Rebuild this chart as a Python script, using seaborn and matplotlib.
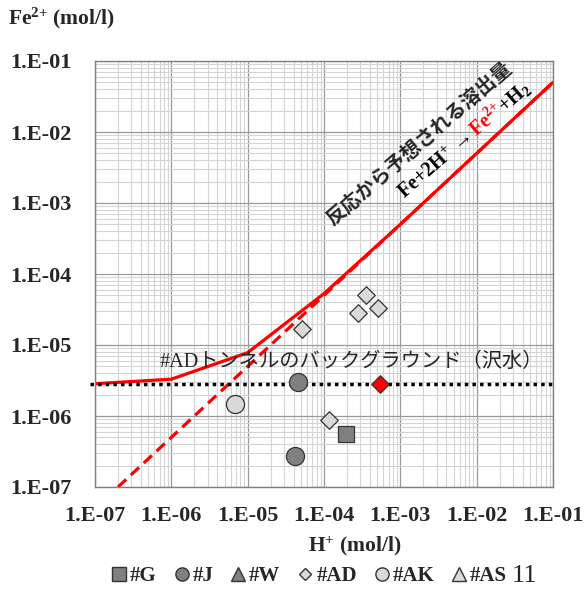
import numpy as np
import matplotlib
matplotlib.use('Agg')
import matplotlib.pyplot as plt
import matplotlib.transforms as mtransforms
from matplotlib.lines import Line2D
from matplotlib.ticker import LogLocator, FixedLocator, FuncFormatter, NullFormatter
import seaborn as sns

# expected dissolution (Fe + 2H+ -> Fe2+ + H2) plus background, read at each decade
line_h = [1e-7, 1e-6, 1e-5, 1e-4, 1e-3, 1e-2, 1e-1]
line_fe = [2.85e-6, 3.3e-6, 7.8e-6, 5.3e-5, 5.0e-4, 5.0e-3, 5.0e-2]
# same reaction without background (dashed)
dash_h = [2e-7, 1e-6, 1e-5, 1e-4, 1e-3, 1e-2, 1e-1]
dash_fe = [1e-7, 5e-7, 5e-6, 5e-5, 5e-4, 5e-3, 5e-2]
# background level of the #AD tunnel (stream water)
background_fe = 2.8e-6

# measured points
g_h, g_fe = [1.95e-4], [5.6e-7]
j_h, j_fe = [4.6e-5, 4.2e-5], [3.0e-6, 2.7e-7]
ad_h = [5.2e-5, 3.6e-4, 2.8e-4, 5.1e-4, 1.15e-4]
ad_fe = [1.66e-5, 5.0e-5, 2.8e-5, 3.3e-5, 8.8e-7]
ak_h, ak_fe = [6.8e-6], [1.46e-6]
ad_bg_h, ad_bg_fe = [5.4e-4], [2.85e-6]

decades = [1e-7, 1e-6, 1e-5, 1e-4, 1e-3, 1e-2, 1e-1]
legend_labels = ['#G', '#J', '#W', '#AD', '#AK', '#AS']

sns.set_style('white')
plt.rcParams['font.family'] = ['Liberation Serif', 'Noto Sans CJK JP']
plt.rcParams['mathtext.default'] = 'regular'

fig = plt.figure(figsize=(5.86, 5.91), dpi=100)
ax = fig.add_axes([95 / 586, 1 - 487 / 591, 458 / 586, 426 / 591])
ax.set_xscale('log')
ax.set_yscale('log')
ax.set_xlim(1e-7, 1e-1)
ax.set_ylim(1e-7, 1e-1)

# every decade labelled, minor lines as grid only
for axis in (ax.xaxis, ax.yaxis):
    axis.set_major_locator(FixedLocator(decades))
    axis.set_minor_locator(LogLocator(base=10, subs=np.arange(2, 10), numticks=20))
    axis.set_minor_formatter(NullFormatter())
ax.grid(which='minor', color='#d4d4d4', linewidth=0.8)
ax.grid(which='major', color='#9a9a9a', linewidth=0.9)
ax.set_axisbelow(True)

fmt = FuncFormatter(lambda v, p: '1.E%03d' % int(round(np.log10(v))))
ax.xaxis.set_major_formatter(fmt)
ax.yaxis.set_major_formatter(fmt)
ax.tick_params(axis='x', which='both', length=0, pad=14, labelsize=16)
ax.tick_params(axis='y', which='major', length=5, width=1, color='#808080', direction='out', pad=12, labelsize=16)
ax.tick_params(axis='y', which='minor', length=0)
for lab in ax.get_xticklabels() + ax.get_yticklabels():
    lab.set_fontweight('bold')
for s in ax.spines.values():
    s.set_color('#808080')
    s.set_linewidth(1)

# lines
sns.lineplot(x=dash_h, y=dash_fe, ax=ax, color='#ff0000', linewidth=2.3, linestyle=(0, (3.5, 2)), sort=False, estimator=None)
sns.lineplot(x=line_h, y=line_fe, ax=ax, color='#ff0000', linewidth=2.3, sort=False, estimator=None)
ax.axhline(background_fe, xmin=-0.012, color='black', linewidth=2.5, linestyle=(0, (1, 1.2)), clip_on=False)

# points
mk = dict(ax=ax, edgecolor='#333333', linewidth=0.9, legend=False, zorder=5)
sns.scatterplot(x=g_h, y=g_fe, marker='s', s=140, color='#808080', **mk)
sns.scatterplot(x=j_h, y=j_fe, marker='o', s=170, color='#808080', **mk)
sns.scatterplot(x=ad_h, y=ad_fe, marker='D', s=80, color='#d9d9d9', **mk)
sns.scatterplot(x=ak_h, y=ak_fe, marker='o', s=170, color='#d9d9d9', **mk)
sns.scatterplot(x=ad_bg_h, y=ad_bg_fe, marker='D', s=80, color='#ff0000', **mk)

# background label
ax.text(7.1e-7, 4.97e-6, '#ADトンネルのバックグラウンド（沢水）', fontsize=14.6,
        ha='left', va='baseline', family=['Liberation Serif', 'Noto Sans CJK JP'])

# rotated annotation along the reaction line
ang = 41
ax.text(1.3e-4, 4.7e-4, '反応から予想される溶出量', fontsize=14.3, rotation=ang,
        rotation_mode='anchor', ha='left', va='baseline',
        family=['Noto Sans CJK JP'], fontweight='bold')

pieces = [('Fe+2H$^{+}$ → ', 'black'), ('Fe$^{2{+}}$', '#ff0000'), ('+H$_{2}$', 'black')]
renderer = fig.canvas.get_renderer()
dist = 0.0
c, sn = np.cos(np.radians(ang)), np.sin(np.radians(ang))
for txt, col in pieces:
    tr = mtransforms.offset_copy(ax.transData, fig=fig, x=dist * c, y=dist * sn, units='dots')
    t = ax.text(1.15e-3, 1.12e-3, txt, fontsize=14.5, fontweight='bold', color=col,
                ha='left', va='baseline', rotation=0, transform=tr,
                family=['Liberation Serif', 'DejaVu Serif'])
    w = t.get_window_extent(renderer).width
    t.set_rotation(ang)
    t.set_rotation_mode('anchor')
    dist += w

# axis labels
ax.set_xlabel('H$^{+}$ (mol/l)', fontsize=15.5, fontweight='bold', va='center')
ax.xaxis.set_label_coords((355 - 95) / 458, (487 - 546) / 426)
fig.text(8 / 586, 1 - 18 / 591, 'Fe$^{2{+}}$ (mol/l)', fontsize=15.5, fontweight='bold',
         ha='left', va='center')

# legend
handles = [
    Line2D([], [], marker='s', ls='none', markersize=9.5, markerfacecolor='#808080', markeredgecolor='#333333'),
    Line2D([], [], marker='o', ls='none', markersize=9.5, markerfacecolor='#808080', markeredgecolor='#333333'),
    Line2D([], [], marker='^', ls='none', markersize=9.5, markerfacecolor='#808080', markeredgecolor='#333333'),
    Line2D([], [], marker='D', ls='none', markersize=6.5, markerfacecolor='#d9d9d9', markeredgecolor='#333333'),
    Line2D([], [], marker='o', ls='none', markersize=9.5, markerfacecolor='#d9d9d9', markeredgecolor='#333333'),
    Line2D([], [], marker='^', ls='none', markersize=9.5, markerfacecolor='#d9d9d9', markeredgecolor='#333333'),
]
ax.legend(handles, legend_labels, ncol=6, loc='center', bbox_to_anchor=((309 - 95) / 458, (487 - 576) / 426),
          frameon=False, handlelength=0.8, handletextpad=0.12, columnspacing=0.8,
          prop={'family': 'Liberation Serif', 'weight': 'bold', 'size': 15})
fig.text(512 / 586, 1 - 576 / 591, '11', fontsize=19, ha='left', va='center')

fig.savefig('out.png', dpi=100)
